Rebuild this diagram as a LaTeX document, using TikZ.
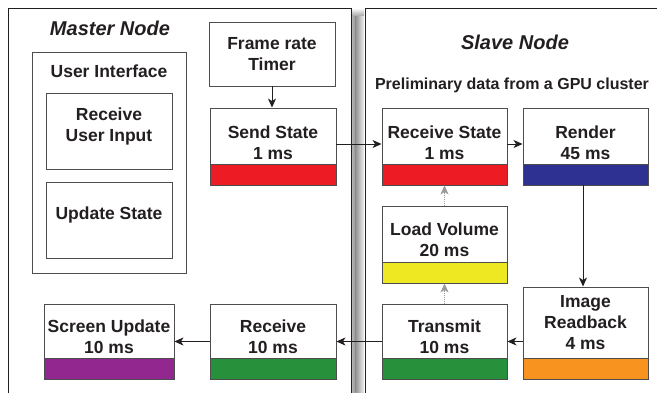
\documentclass[tikz,border=0pt]{standalone}
\usepackage{fontspec}
\setmainfont{Liberation Sans}
\usetikzlibrary{arrows.meta}

\definecolor{ink}{HTML}{231F20}
\definecolor{edge}{HTML}{4D4D4F}
\definecolor{barred}{HTML}{ED1C24}
\definecolor{barblue}{HTML}{2E3192}
\definecolor{baryellow}{HTML}{EEE823}
\definecolor{bargreen}{HTML}{27903A}
\definecolor{barorange}{HTML}{F7931E}
\definecolor{barpurple}{HTML}{92278F}
\definecolor{dotgray}{HTML}{9A9A9A}

\tikzset{
  panel/.style={draw=ink, line width=0.9pt},
  plainbox/.style={draw=edge, line width=0.9pt, fill=white, rectangle, inner sep=0pt},
  taskbox/.style={plainbox,
    path picture={\fill[#1] ([yshift=21pt]path picture bounding box.south west)
                  rectangle (path picture bounding box.south east);
                  \draw[edge, line width=0.9pt] ([yshift=21pt]path picture bounding box.south west)
                  -- ([yshift=21pt]path picture bounding box.south east);}},
  boxtext/.style={font=\bfseries\fontsize{17.5}{21}\selectfont, text=ink, align=center, inner sep=0pt},
  titletext/.style={font=\bfseries\itshape\fontsize{20}{24}\selectfont, text=ink, inner sep=0pt},
  arr/.style={draw=ink, line width=0.9pt, -{Stealth[length=9pt,width=8pt,inset=2.5pt]}},
  dotarr/.style={draw=dotgray, line width=0.9pt, densely dotted,
    -{Stealth[length=9pt,width=8pt,inset=2.5pt,fill=dotgray]}},
}

\begin{document}
\begin{tikzpicture}[x=1pt, y=-1pt]
\useasboundingbox (0,0) rectangle (657,393);
\clip (0,0) rectangle (657,393);

% shadow between the two panels
\shade[left color=gray!55, right color=gray!85] (351.5,16) rectangle (355.5,400);
\shade[left color=gray!85, right color=gray!12] (355.5,16) rectangle (364,400);
\shade[top color=white, bottom color=gray!70] (351.5,8) rectangle (364,16);

% panels
\draw[panel] (8,410) -- (8,8) -- (351,8) -- (351,410);
\draw[panel] (365,410) -- (365,8) -- (670,8);

\node[titletext] (mtitle) at (110,28) {Master Node};
\node[titletext] (stitle) at (515,42) {Slave Node};
\node[font=\bfseries\fontsize{16}{19}\selectfont, text=ink, inner sep=0pt] (note) at (512,85)
  {Preliminary data from a GPU cluster};

% user interface group
\node[plainbox, minimum width=154pt, minimum height=221pt] (ui) at (109,162.5) {};
\node[boxtext] (uitext) at (109,71) {User Interface};
\node[plainbox, minimum width=126pt, minimum height=76pt] (input) at (109,131) {};
\node[boxtext] (inputtext) at (109,126) {Receive\\User Input};
\node[plainbox, minimum width=126pt, minimum height=76pt] (update) at (109,220) {};
\node[boxtext] (updatetext) at (109,215) {Update State};

% master tasks
\node[plainbox, minimum width=126pt, minimum height=64pt] (timer) at (272,54) {};
\node[boxtext] (timertext) at (272,54.5) {Frame rate\\Timer};
\node[taskbox=barred, minimum width=126pt, minimum height=77pt] (send) at (273,146.5) {};
\node[boxtext] (sendtext) at (273,142.5) {Send State\\1 ms};
\node[taskbox=bargreen, minimum width=126pt, minimum height=75pt] (mrecv) at (273,341.5) {};
\node[boxtext] (mrecvtext) at (273,336.5) {Receive\\10 ms};
\node[taskbox=barpurple, minimum width=130pt, minimum height=75pt] (screen) at (109,341.5) {};
\node[boxtext] (screentext) at (109,336.5) {Screen Update\\10 ms};

% slave tasks
\node[taskbox=barred, minimum width=125pt, minimum height=77pt] (srecv) at (444.5,146.5) {};
\node[boxtext] (srecvtext) at (444.5,142.5) {Receive State\\1 ms};
\node[taskbox=barblue, minimum width=125pt, minimum height=77pt] (render) at (585.5,146.5) {};
\node[boxtext] (rendertext) at (585.5,142.5) {Render\\45 ms};
\node[taskbox=baryellow, minimum width=125pt, minimum height=77pt] (load) at (444.5,244.5) {};
\node[boxtext] (loadtext) at (444.5,240) {Load Volume\\20 ms};
\node[taskbox=bargreen, minimum width=125pt, minimum height=75pt] (transmit) at (444.5,341.5) {};
\node[boxtext] (transmittext) at (444.5,336.5) {Transmit\\10 ms};
\node[taskbox=barorange, minimum width=125pt, minimum height=92pt] (readback) at (585.5,333) {};
\node[boxtext] (readbacktext) at (585.5,323) {Image\\Readback\\4 ms};

% connectors
\draw[arr] (timer.south) -- (timer.south |- send.north);
\draw[arr] ([yshift=2.5pt]send.east) -- ([yshift=2.5pt]srecv.west);
\draw[arr] ([yshift=2.5pt]srecv.east) -- ([yshift=2.5pt]render.west);
\draw[arr] ([xshift=-2.5pt]render.south) -- ([xshift=-2.5pt]render.south |- readback.north);
\draw[arr] (readback.west |- transmit.east) -- (transmit.east);
\draw[arr] (transmit.west) -- (mrecv.east);
\draw[arr] (mrecv.west) -- (screen.east);
\draw[dotarr] (transmit.north) -- (load.south);
\draw[dotarr] (load.north) -- (srecv.south);
\end{tikzpicture}
\end{document}
